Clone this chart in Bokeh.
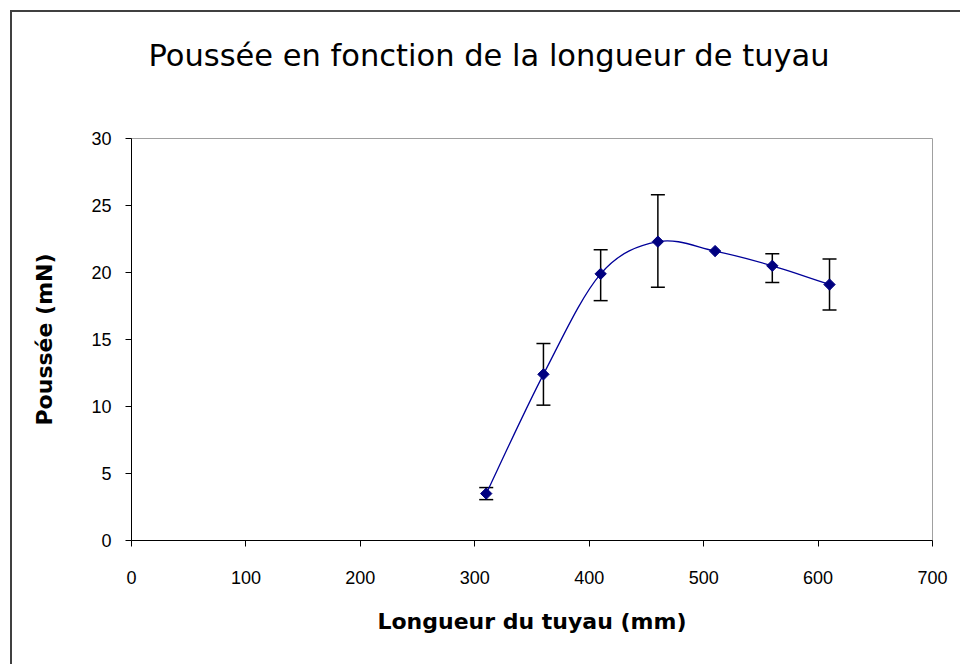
import numpy as np
from bokeh.plotting import figure
from bokeh.models import ColumnDataSource, Whisker, TeeHead, Range1d, FixedTicker, InlineStyleSheet, Title
from bokeh.embed import file_html
from bokeh.resources import INLINE

# Data
longueur = [310, 360, 410, 460, 510, 560, 610]          # mm
poussee = [3.5, 12.4, 19.9, 22.3, 21.6, 20.5, 19.1]     # mN
err_bas = [3.05, 10.1, 17.9, 18.9, 21.6, 19.25, 17.2]   # lower end of error bar
err_haut = [3.95, 14.7, 21.7, 25.8, 21.6, 21.4, 21.0]   # upper end of error bar
x_ticks = [0, 100, 200, 300, 400, 500, 600, 700]
y_ticks = [0, 5, 10, 15, 20, 25, 30]

titre = "Poussée en fonction de la longueur de tuyau"
titre_x = "Longueur du tuyau (mm)"
titre_y = "Poussée (mN)"

p = figure(width=960, height=664, output_backend="svg", toolbar_location=None,
           x_range=Range1d(0, 700), y_range=Range1d(0, 30),
           min_border_left=131, min_border_right=28, min_border_top=138, min_border_bottom=124)
p.background_fill_color = "white"
p.border_fill_color = "white"
p.outline_line_color = "#a0a0a0"
p.outline_line_width = 1
p.grid.visible = False

# Outer chart border (only its left and top edges fall inside the picture)
p.stylesheets = [InlineStyleSheet(css=""":host::after {
  content: ""; position: absolute; left: 10px; top: 10px; right: 0px; bottom: 0px;
  border-left: 2px solid #404040; border-top: 2px solid #404040;
  pointer-events: none; }""")]

# Real title (outer), with a blank spacer title between it and the frame
p.title.text = titre
p.title.text_font = "DejaVu Sans"
p.title.text_font_size = "30.5px"
p.title.text_font_style = "normal"
p.title.text_color = "black"
p.title.align = "left"
p.title.offset = 17
p.title.standoff = 0
p.add_layout(Title(text=" ", text_font_size="1px", standoff=63), "above")

# Axes
for ax in (p.xaxis[0], p.yaxis[0]):
    ax.axis_line_color = "black"
    ax.axis_line_width = 1
    ax.major_tick_line_color = "black"
    ax.major_tick_in = 0
    ax.major_tick_out = 6
    ax.minor_tick_line_color = None
    ax.major_label_text_font = "Liberation Sans"
    ax.major_label_text_font_size = "18px"
    ax.major_label_text_color = "black"
    ax.axis_label_text_font = "DejaVu Sans"
    ax.axis_label_text_font_size = "22px"
    ax.axis_label_text_font_style = "bold"
    ax.axis_label_text_color = "black"

p.xaxis[0].ticker = FixedTicker(ticks=x_ticks)
p.yaxis[0].ticker = FixedTicker(ticks=y_ticks)
p.xaxis[0].axis_label = titre_x
p.yaxis[0].axis_label = titre_y
p.xaxis[0].major_label_standoff = 24
p.yaxis[0].major_label_standoff = 14
p.xaxis[0].axis_label_standoff = 22
p.yaxis[0].axis_label_standoff = 31

# Smoothed line (Catmull-Rom style Bezier segments, as Excel does)
xs = np.array(longueur, dtype=float)
ys = np.array(poussee, dtype=float)
n = len(xs)
xp = np.concatenate([[xs[0]], xs, [xs[-1]]])
yp = np.concatenate([[ys[0]], ys, [ys[-1]]])
seg = dict(x0=[], y0=[], x1=[], y1=[], cx0=[], cy0=[], cx1=[], cy1=[])
for i in range(n - 1):
    a, b = i + 1, i + 2
    seg["x0"].append(xp[a]); seg["y0"].append(yp[a])
    seg["x1"].append(xp[b]); seg["y1"].append(yp[b])
    seg["cx0"].append(xp[a] + (xp[b] - xp[a - 1]) / 6.0)
    seg["cy0"].append(yp[a] + (yp[b] - yp[a - 1]) / 6.0)
    seg["cx1"].append(xp[b] - (xp[b + 1] - xp[a]) / 6.0)
    seg["cy1"].append(yp[b] - (yp[b + 1] - yp[a]) / 6.0)
p.bezier(x0="x0", y0="y0", x1="x1", y1="y1", cx0="cx0", cy0="cy0", cx1="cx1", cy1="cy1",
         source=ColumnDataSource(seg), line_color="#000099", line_width=1.3)

# Error bars
idx = [i for i in range(n) if err_haut[i] > err_bas[i]]
err_src = ColumnDataSource(dict(x=[longueur[i] for i in idx],
                                lower=[err_bas[i] for i in idx],
                                upper=[err_haut[i] for i in idx]))
wh = Whisker(base="x", lower="lower", upper="upper", source=err_src, dimension="height",
             line_color="black", line_width=1.5,
             lower_head=TeeHead(size=14, line_color="black", line_width=1.5),
             upper_head=TeeHead(size=14, line_color="black", line_width=1.5))
p.add_layout(wh)

# Markers
p.scatter(longueur, poussee, marker="square", angle=np.pi / 4, size=8,
          fill_color="#000080", line_color="#000080")

open("out.html", "w").write(file_html(p, INLINE))
